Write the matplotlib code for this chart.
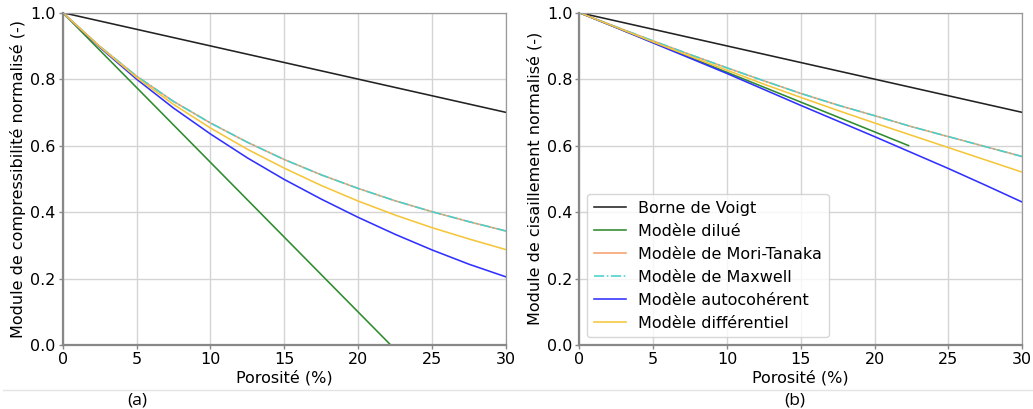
import matplotlib
matplotlib.use("Agg")
from matplotlib import pyplot as plt
from matplotlib.lines import Line2D

# porosity grid (%) for the curved models
poro = [0, 2.5, 5, 7.5, 10, 12.5, 15, 17.5, 20, 22.5, 25, 27.5, 30]

# (a) bulk modulus, normalised
voigt_x = [0, 30]
voigt_k = [1.0, 0.7]
dilue_k_x = [0, 22.2]
dilue_k = [1.0, 0.0]
mt_k = [1.0, 0.899, 0.809, 0.733, 0.668, 0.610, 0.558, 0.512, 0.471, 0.434, 0.401, 0.371, 0.343]
maxwell_k = mt_k
auto_k = [1.0, 0.896, 0.800, 0.713, 0.635, 0.563, 0.498, 0.439, 0.384, 0.333, 0.286, 0.243, 0.205]
diff_k = [1.0, 0.898, 0.805, 0.724, 0.653, 0.589, 0.532, 0.480, 0.433, 0.391, 0.353, 0.319, 0.287]

# (b) shear modulus, normalised
voigt_g = [1.0, 0.7]
dilue_g_x = [0, 22.3]
dilue_g = [1.0, 0.6]
mt_g = [1.0, 0.957, 0.915, 0.874, 0.834, 0.795, 0.757, 0.722, 0.690, 0.657, 0.627, 0.597, 0.567]
maxwell_g = mt_g
auto_g = [1.0, 0.955, 0.909, 0.863, 0.817, 0.769, 0.721, 0.674, 0.627, 0.579, 0.531, 0.481, 0.430]
diff_g = [1.0, 0.956, 0.912, 0.869, 0.827, 0.785, 0.745, 0.706, 0.668, 0.631, 0.594, 0.557, 0.520]

labels = ["Borne de Voigt", "Modèle dilué", "Modèle de Mori-Tanaka",
          "Modèle de Maxwell", "Modèle autocohérent", "Modèle différentiel"]
ylabels = ["Module de compressibilité normalisé (-)", "Module de cisaillement normalisé (-)"]

FS = 11.5
plt.rcParams['font.family'] = ['DejaVu Sans']
plt.rcParams['font.size'] = FS

fig = plt.figure(figsize=(10.33, 4.09), dpi=100)
ax_a = fig.add_axes([0.0607, 0.1565, 0.4291, 0.8125])
ax_b = fig.add_axes([0.5608, 0.1565, 0.4288, 0.8125])

def draw(ax, vy, dx, dy, mt, mx, sc, df, ylab):
    ax.plot(voigt_x, vy, color='#222222', lw=1.15, label=labels[0])
    ax.plot(dx, dy, color='#2e8b2e', lw=1.15, label=labels[1])
    ax.plot(poro, mt, color='#f4a070', lw=1.15, label=labels[2])
    ax.plot(poro, mx, color='mediumturquoise', lw=1.15, ls='-.', label=labels[3])
    ax.plot(poro, sc, color='#3030ff', lw=1.15, label=labels[4])
    ax.plot(poro, df, color='#f5c63a', lw=1.15, label=labels[5])
    ax.set_xlim(0, 30)
    ax.set_ylim(0, 1)
    ax.set_xticks(range(0, 31, 5))
    ax.set_yticks([0, 0.2, 0.4, 0.6, 0.8, 1.0])
    ax.grid(True, color='#d4d4d4', lw=1)
    ax.set_axisbelow(True)
    ax.set_xlabel("Porosité (%)", fontsize=FS, labelpad=2)
    ax.set_ylabel(ylab, fontsize=FS, labelpad=3)
    ax.tick_params(length=3, width=1, color='#888888', pad=2, labelsize=FS)
    for s in ['left', 'bottom']:
        ax.spines[s].set_color('#888888')
        ax.spines[s].set_linewidth(1.6)
    for s in ['top', 'right']:
        ax.spines[s].set_color('#999999')
        ax.spines[s].set_linewidth(0.9)

draw(ax_a, voigt_k, dilue_k_x, dilue_k, mt_k, maxwell_k, auto_k, diff_k, ylabels[0])
draw(ax_b, voigt_g, dilue_g_x, dilue_g, mt_g, maxwell_g, auto_g, diff_g, ylabels[1])
ax_b.legend(loc='lower left', fontsize=FS, handlelength=2.0)

# separator and captions below the two panels
fig.add_artist(Line2D([0.003, 1.0], [0.0465, 0.0465], color='#e4e4e4', lw=1))
fig.text(0.1326, 0.021, "(a)", ha='center', va='center', fontsize=12.5, family='Open Sans')
fig.text(0.7696, 0.021, "(b)", ha='center', va='center', fontsize=12.5, family='Open Sans')

fig.savefig("out.png", dpi=100)
